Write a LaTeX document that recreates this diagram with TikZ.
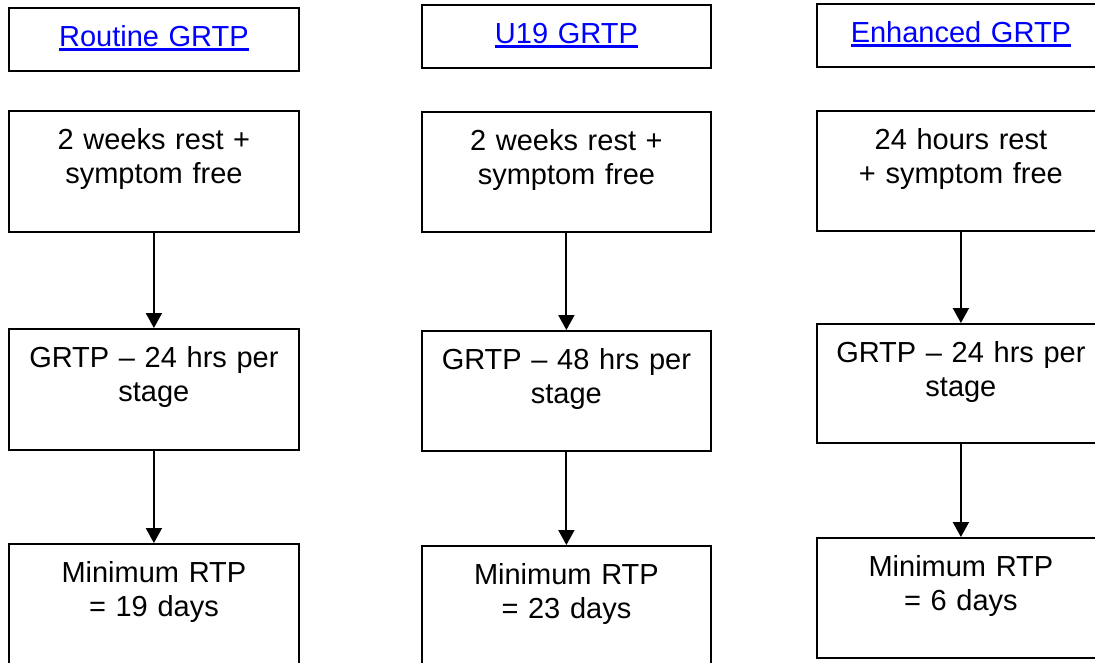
\documentclass[tikz,border=0pt]{standalone}
\usepackage{fontspec}
\setmainfont{Liberation Sans}
\usetikzlibrary{arrows.meta}
\definecolor{linkblue}{RGB}{0,0,255}
\newcommand\linkul[1]{\setbox0\hbox{#1}\rlap{\rule[-4pt]{\wd0}{2.6pt}}\box0}
\begin{document}
\begin{tikzpicture}[x=1pt,y=-1pt,
  box/.style={draw, line width=1.8pt, inner xsep=0pt, inner ysep=0pt, anchor=north west,
    align=center, font=\fontsize{29pt}{34pt}\selectfont, text height=39pt},
  flow/.style={-{Triangle[width=16pt,length=15pt]}, line width=2pt}]
\useasboundingbox (0,0) rectangle (1095,662);
% column 1
\node[box, text width=290pt, text depth=24pt] (t1) at (8,7) {\textcolor{linkblue}{\linkul{Routine GRTP}}};
\node[box, text width=290pt, text depth=82pt] (a1) at (8,110) {2 weeks rest +\\symptom free};
\node[box, text width=290pt, text depth=82pt] (b1) at (8,328) {GRTP – 24 hrs per\\stage};
\node[box, text width=290pt, text depth=82pt] (c1) at (8,543) {Minimum RTP\\= 19 days};
% column 2
\node[box, text width=289pt, text depth=24pt] (t2) at (421,4) {\textcolor{linkblue}{\linkul{U19 GRTP}}};
\node[box, text width=289pt, text depth=81pt] (a2) at (421,111) {2 weeks rest +\\symptom free};
\node[box, text width=289pt, text depth=81pt] (b2) at (421,330) {GRTP – 48 hrs per\\stage};
\node[box, text width=289pt, text depth=81pt] (c2) at (421,545) {Minimum RTP\\= 23 days};
% column 3
\node[box, text width=288pt, text depth=24pt] (t3) at (816,3) {\textcolor{linkblue}{\linkul{Enhanced GRTP}}};
\node[box, text width=288pt, text depth=81pt] (a3) at (816,110) {24 hours rest\\+ symptom free};
\node[box, text width=288pt, text depth=80pt] (b3) at (816,323) {GRTP – 24 hrs per\\stage};
\node[box, text width=288pt, text depth=81pt] (c3) at (816,537) {Minimum RTP\\= 6 days};
% connectors
\draw[flow] (a1.south) -- (b1.north);
\draw[flow] (b1.south) -- (c1.north);
\draw[flow] (a2.south) -- (b2.north);
\draw[flow] (b2.south) -- (c2.north);
\draw[flow] (a3.south) -- (b3.north);
\draw[flow] (b3.south) -- (c3.north);
\end{tikzpicture}
\end{document}
